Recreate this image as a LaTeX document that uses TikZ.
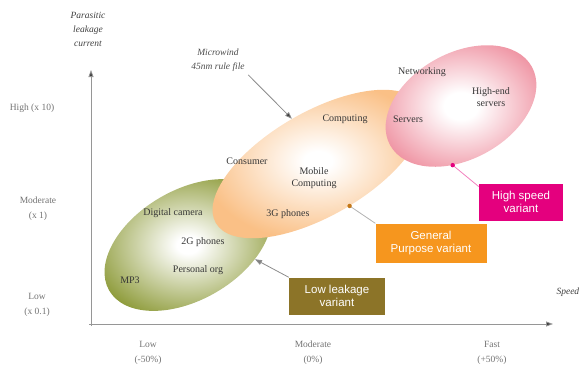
\documentclass[tikz,border=0pt]{standalone}
\usepackage{fontspec}
\setmainfont{Liberation Serif}
\newfontfamily\boxfont{Liberation Sans}
\usetikzlibrary{shapes.geometric,arrows.meta}
\definecolor{lowgreen}{RGB}{136,150,48}
\definecolor{midorange}{RGB}{250,192,134}
\definecolor{fastpink}{RGB}{236,128,146}
\definecolor{lowboxcol}{RGB}{140,116,40}
\definecolor{midboxcol}{RGB}{246,150,30}
\definecolor{fastboxcol}{RGB}{228,0,126}
\definecolor{axiscol}{RGB}{150,150,150}
\definecolor{labelcol}{RGB}{55,55,55}
\pgfdeclareradialshading{lowglow}{\pgfpoint{0bp}{0bp}}{color(0bp)=(white); color(3bp)=(white); color(28bp)=(lowgreen); color(75bp)=(lowgreen)}
\pgfdeclareradialshading{midglow}{\pgfpoint{0bp}{0bp}}{color(0bp)=(white); color(3bp)=(white); color(25bp)=(midorange); color(75bp)=(midorange)}
\pgfdeclareradialshading{fastglow}{\pgfpoint{0bp}{0bp}}{color(0bp)=(white); color(5bp)=(white); color(30bp)=(fastpink); color(75bp)=(fastpink)}

\begin{document}
\begin{tikzpicture}[x=1pt, y=-1pt,
  blob/.style={ellipse, inner sep=0pt, shade},
  lbl/.style={font=\fontsize{10}{11.5}\selectfont, text=labelcol, align=center},
  axlbl/.style={font=\fontsize{9.5}{15}\selectfont, text=gray!90!black, align=center},
  variant/.style={font=\boxfont\fontsize{11.5}{13.5}\selectfont, text=white, align=center, inner sep=0pt},
  pointer/.style={draw=gray!90, line width=0.8pt}]
\useasboundingbox (0,0) rectangle (581,368);

% axes
\draw node(origin) at (91,324) {};
\coordinate (ytop) at (91,70);
\coordinate (xend) at (553,324);
\draw[axiscol, line width=0.8pt, -{Triangle[length=7pt,width=5pt,fill=black!75]}] (91,326) -- (ytop);
\draw[axiscol, line width=0.8pt, -{Triangle[length=7pt,width=5pt,fill=black!75]}] (89,324) -- (xend);
\draw node(yname)[axlbl, text=black!75, font=\itshape\fontsize{9.5}{14}\selectfont] at (88,29) {Parasitic\\leakage\\current};
\draw node(xname)[axlbl, text=black!75, font=\itshape\fontsize{9.5}{12}\selectfont, anchor=west] at (553,292) {Speed};
\draw node(yhigh)[axlbl] at (32,108) {High (x 10)};
\draw node(ymid)[axlbl] at (38,209) {Moderate\\(x 1)};
\draw node(ylow)[axlbl] at (37,305) {Low\\(x 0.1)};
\draw node(xlow)[axlbl] at (148,353) {Low\\(-50\%)};
\draw node(xmid)[axlbl] at (313,353) {Moderate\\(0\%)};
\draw node(xfast)[axlbl] at (492,353) {Fast\\(+50\%)};

% the three variants
\draw node(lowell)[blob, shading=lowglow, minimum width=182pt, minimum height=110pt, rotate=30] at (188,245) {};
\draw node(midell)[blob, shading=midglow, minimum width=236pt, minimum height=104pt, rotate=30] at (318,164) {};
\draw node(fastell)[blob, shading=fastglow, minimum width=162pt, minimum height=106pt, rotate=29] at (461,106) {};

% applications
\draw node(camera)[lbl] at (173,213) {Digital camera};
\draw node(phones2g)[lbl] at (203,242) {2G phones};
\draw node(organiser)[lbl] at (198,270) {Personal org};
\draw node(mp3)[lbl] at (130,280) {MP3};
\draw node(consumer)[lbl] at (247,161) {Consumer};
\draw node(computing)[lbl] at (345,119) {Computing};
\draw node(mobile)[lbl] at (314,178) {Mobile\\Computing};
\draw node(phones3g)[lbl] at (288,214) {3G phones};
\draw node(networking)[lbl] at (422,72) {Networking};
\draw node(servers)[lbl] at (408,119) {Servers};
\draw node(highend)[lbl] at (491,97) {High-end\\servers};

% rule file
\draw node(rulefile)[lbl, text=black!70, font=\itshape\fontsize{9.5}{14}\selectfont] at (218,60) {Microwind\\45nm rule file};
\draw[pointer, -{Triangle[length=7pt,width=5pt,fill=black!75]}] (rulefile.south east) -- (midell.north);

% variant boxes
\draw node(lowbox)[variant, fill=lowboxcol, minimum width=96pt, minimum height=37pt] at (337,296) {Low leakage\\variant};
\draw node(midbox)[variant, fill=midboxcol, minimum width=111pt, minimum height=39pt] at (431,243) {General\\Purpose variant};
\draw node(fastbox)[variant, fill=fastboxcol, minimum width=84pt, minimum height=37pt] at (521,202) {High speed\\variant};
\draw[pointer, -{Triangle[length=7pt,width=5pt,fill=gray]}] (lowbox.north west) -- (lowell.-42);
\draw[pointer, draw=gray!60] (midell.-83) -- (midbox.north west);
\fill[midboxcol!80!black] (midell.-83) circle (2.2);
\draw[pointer, draw=fastboxcol!50] (fastell.-127) -- (fastbox.160);
\fill[fastboxcol] (fastell.-127) circle (2.2);
\end{tikzpicture}
\end{document}
